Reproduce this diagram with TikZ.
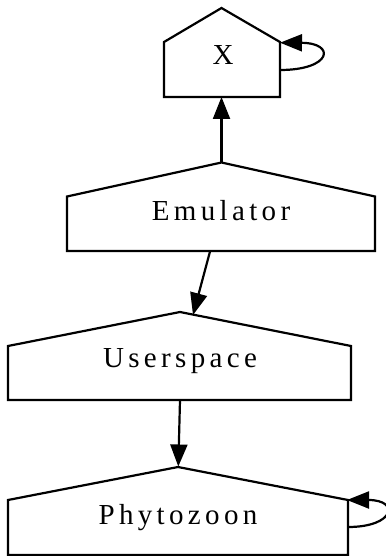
\documentclass[tikz,border=0pt]{standalone}
\usepackage{fontspec}
\setmainfont{Liberation Serif}
\usetikzlibrary{arrows.meta}
\tikzset{
  house/.style={draw=black, line width=2.2pt, line join=miter, fill=white},
  lbl/.style={anchor=base, inner sep=0pt, font=\fontsize{29}{32}\selectfont\addfontfeature{LetterSpace=15}},
  edge/.style={draw=black, line width=2.2pt, -{Triangle[length=22pt,width=17pt]}}
}
\begin{document}
\begin{tikzpicture}[x=1pt,y=-1pt]
\useasboundingbox (0,0) rectangle (385,556);
% house shapes
\draw[house] (164,97) -- (164,42) -- (221.5,8) -- (280,42) -- (280,97) -- cycle;
\draw[house] (67,251) -- (67,196.5) -- (221.5,162.5) -- (375,196.5) -- (375,251) -- cycle;
\draw[house] (8,400) -- (8,346) -- (180,312) -- (351,346) -- (351,400) -- cycle;
\draw[house] (8,555) -- (8,500) -- (178,467) -- (348,500) -- (348,555) -- cycle;
% labels
\node[lbl] (x) at (223,65) {X};
\node[lbl] (emu) at (221,220) {Emulator};
\node[lbl] (user) at (180,367.7) {Userspace};
\node[lbl] (phyto) at (178,524) {Phytozoon};
% connector end points
\coordinate (xb) at (221.5,97);
\coordinate (xr1) at (280,70);
\coordinate (xr2) at (280,42.7);
\coordinate (emut) at (221.5,162.5);
\coordinate (emub) at (210,251.5);
\coordinate (usert) at (193,315);
\coordinate (userb) at (180,400);
\coordinate (phytot) at (178.3,466.5);
\coordinate (phr1) at (348,527);
\coordinate (phr2) at (347,500);
% connectors
\draw[edge] (emut) -- (xb);
\draw[edge] (emub) -- (usert);
\draw[edge] (userb) -- (phytot);
\draw[edge] (xr1) .. controls (332,70) and (336,43) .. (xr2);
\draw[edge] (phr1) .. controls (395,527) and (400,500) .. (phr2);
\end{tikzpicture}
\end{document}
